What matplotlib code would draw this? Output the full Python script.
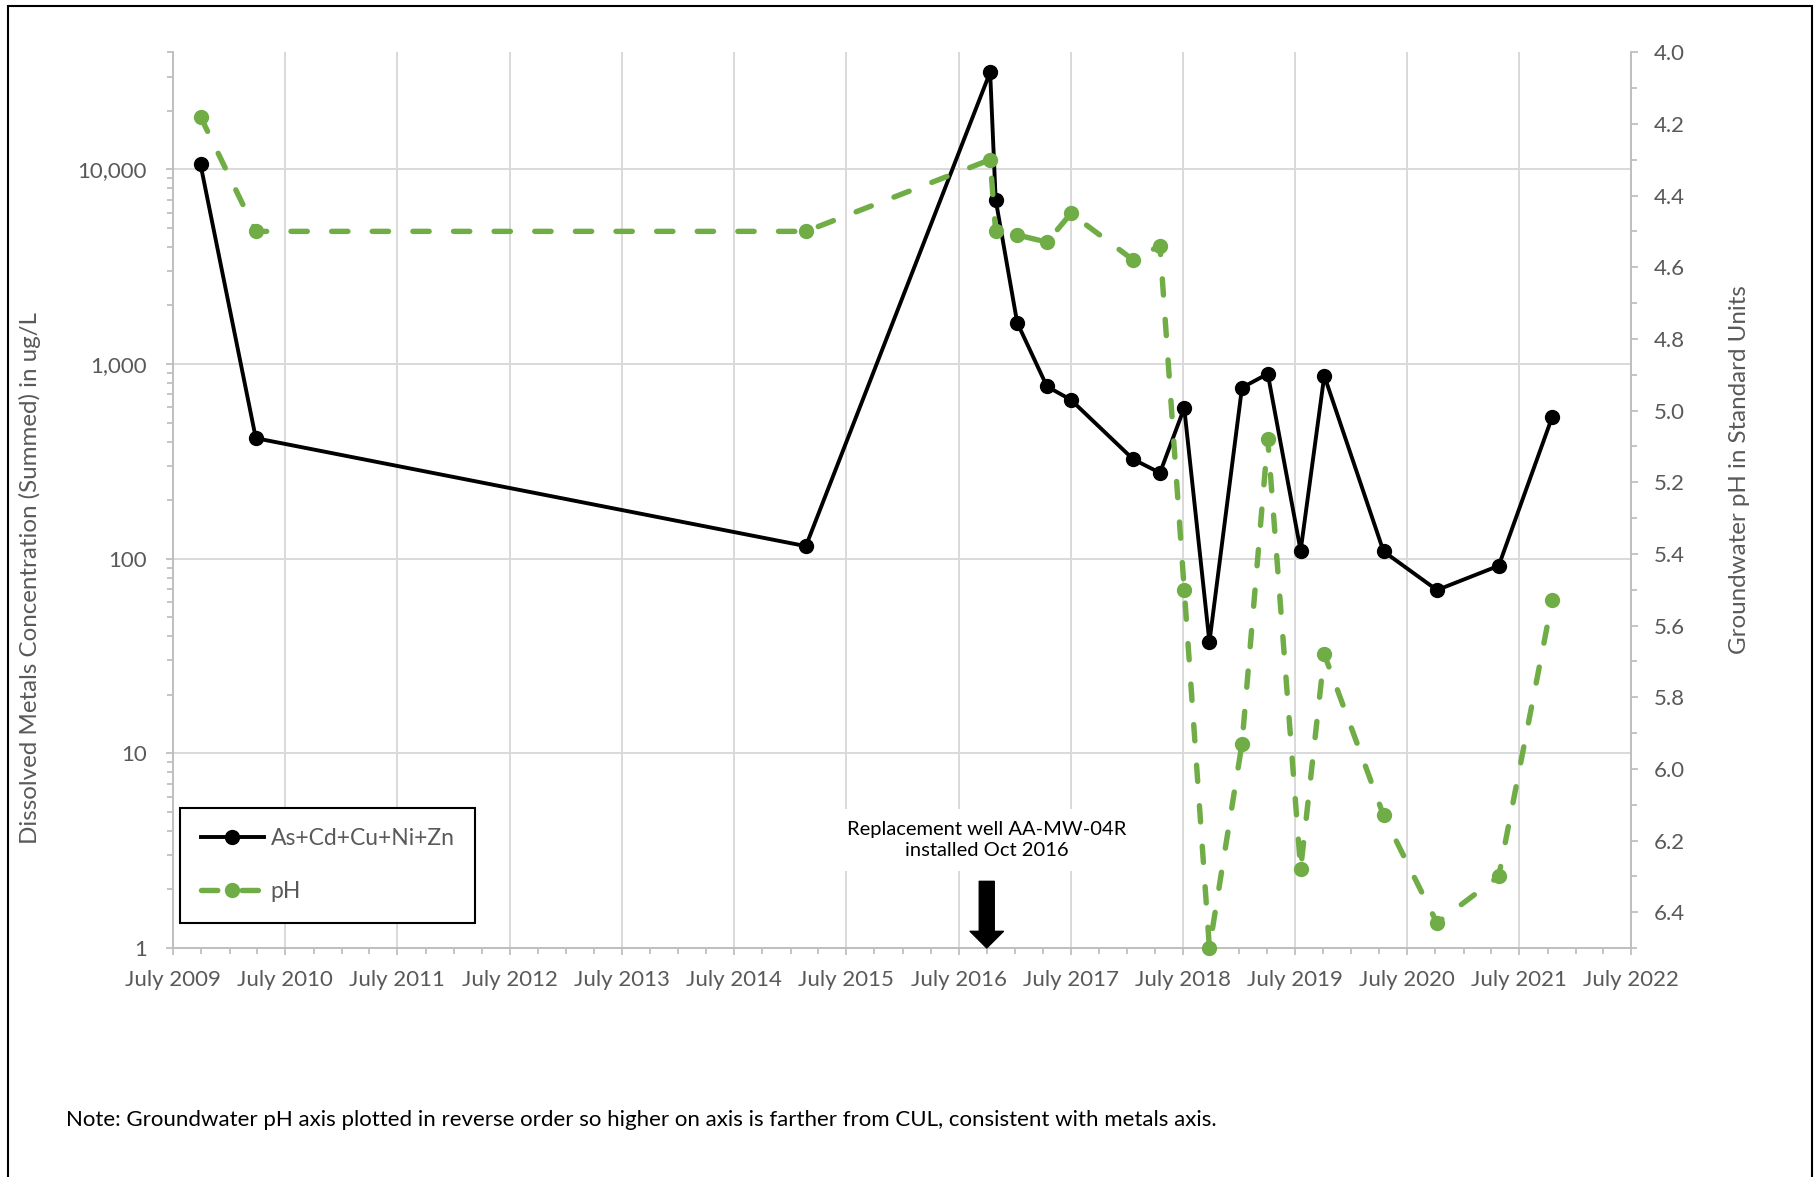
import matplotlib
matplotlib.use("Agg")
import matplotlib.pyplot as plt
import matplotlib.dates as mdates
import matplotlib.ticker as mticker
from matplotlib.patches import Rectangle
import pandas as pd

plt.rcParams['font.family'] = ['Lato', 'DejaVu Sans']

# Monitoring well AA-MW-04 / AA-MW-04R sampling record
sample_dates = ["2009-09-28", "2010-03-27", "2015-02-20", "2016-10-12", "2016-10-30",
                "2017-01-08", "2017-04-15", "2017-07-02", "2018-01-21", "2018-04-18",
                "2018-07-06", "2018-09-26", "2019-01-10", "2019-04-04", "2019-07-20",
                "2019-10-05", "2020-04-15", "2020-10-06", "2021-04-25", "2021-10-16"]
metals_sum = [10600, 416, 116, 31600, 6990, 1634, 767, 655, 324, 276,
              595, 37.3, 756, 891, 110, 871, 109, 69, 92, 534]
ph_values = [4.18, 4.50, 4.50, 4.30, 4.50, 4.51, 4.53, 4.45, 4.58, 4.54,
             5.50, 6.50, 5.93, 5.08, 6.28, 5.68, 6.13, 6.43, 6.30, 5.53]
series_labels = ["As+Cd+Cu+Ni+Zn", "pH"]

x_start, x_end = "2009-07-01", "2022-07-01"
metals_range = (1, 40000)
ph_range = (6.5, 4.0)          # reversed: higher on the axis = lower pH
well_install_date = "2016-10-01"
well_note = "Replacement well AA-MW-04R\ninstalled Oct 2016"
left_title = "Dissolved Metals Concentration (Summed) in ug/L"
right_title = "Groundwater pH in Standard Units"
footnote = ("Note: Groundwater pH axis plotted in reverse order so higher on axis is "
            "farther from CUL, consistent with metals axis.")

GREEN = "#70AD47"
AXIS_GREY = "#BFBFBF"
GRID_GREY = "#D9D9D9"
TEXT_GREY = "#595959"

dates = pd.to_datetime(sample_dates).to_pydatetime()

W, H = 1818, 1177
fig = plt.figure(figsize=(W / 100, H / 100), dpi=100)
ax = fig.add_axes([173.2 / W, 1 - 948 / H, (1631.4 - 173.2) / W, (948 - 52.2) / H])

# ---- primary axis: summed metals (log scale)
ax.set_yscale('log')
ax.set_ylim(*metals_range)
ax.set_xlim(pd.Timestamp(x_start), pd.Timestamp(x_end))
ax.yaxis.set_major_locator(mticker.LogLocator(base=10))
ax.yaxis.set_minor_locator(mticker.LogLocator(base=10, subs=range(2, 10)))
ax.yaxis.set_major_formatter(mticker.FuncFormatter(lambda v, p: f"{v:,.0f}"))
ax.yaxis.set_minor_formatter(mticker.NullFormatter())

ax.xaxis.set_major_locator(mdates.MonthLocator(bymonth=7))
ax.xaxis.set_minor_locator(mdates.MonthLocator(bymonth=[1, 4, 7, 10]))
ax.xaxis.set_major_formatter(mdates.DateFormatter('%B %Y'))

ax.grid(True, which='major', axis='both', color=GRID_GREY, lw=1.4)
ax.set_axisbelow(True)
for s in ('top', 'right'):
    ax.spines[s].set_visible(False)
for s in ('left', 'bottom'):
    ax.spines[s].set_color(AXIS_GREY)
    ax.spines[s].set_linewidth(1.4)
ax.tick_params(which='major', length=5, width=1.3, color=AXIS_GREY,
               labelcolor=TEXT_GREY, labelsize=16)
ax.tick_params(which='minor', length=4, width=1.3, color=AXIS_GREY)
ax.tick_params(axis='y', pad=14)
ax.tick_params(axis='x', pad=11)

metals_line, = ax.plot(dates, metals_sum, color='black', lw=2.8, marker='o',
                       markersize=10, clip_on=False, zorder=4)

# ---- secondary axis: pH (reversed)
ax2 = ax.twinx()
ax2.set_ylim(*ph_range)
ax2.yaxis.set_major_locator(mticker.MultipleLocator(0.2))
ax2.yaxis.set_minor_locator(mticker.MultipleLocator(0.1))
ax2.yaxis.set_major_formatter(mticker.FormatStrFormatter('%.1f'))
for s in ('top', 'left', 'bottom'):
    ax2.spines[s].set_visible(False)
ax2.spines['right'].set_color(AXIS_GREY)
ax2.spines['right'].set_linewidth(1.4)
ax2.tick_params(which='major', length=5, width=1.3, color=AXIS_GREY,
                labelcolor=TEXT_GREY, labelsize=16, pad=11)
ax2.tick_params(which='minor', length=4, width=1.3, color=AXIS_GREY)

ph_line, = ax2.plot(dates, ph_values, color=GREEN, lw=3.9, marker='o',
                    markersize=10, clip_on=False, dashes=(3.0, 4.5),
                    dash_capstyle='round', zorder=4)

# ---- replacement-well annotation
well_dt = pd.Timestamp(well_install_date).to_pydatetime()
ax.text(well_dt, 3.6, well_note, ha='center', va='center', fontsize=14.5,
        color='black', linespacing=1.3, zorder=3,
        bbox=dict(boxstyle='square,pad=0.6', fc='white', ec='none'))
ax.annotate('', xy=(well_dt, 1.0), xytext=(well_dt, 2.2),
            arrowprops=dict(facecolor='black', edgecolor='black', width=10.8,
                            headwidth=24, headlength=12, shrink=0),
            annotation_clip=False, zorder=3)

# ---- legend
leg = ax2.legend(handles=[metals_line, ph_line], labels=series_labels,
                 loc='lower left', bbox_to_anchor=(0.0047, 0.0279),
                 borderaxespad=0, fontsize=16.5, labelcolor=TEXT_GREY,
                 handlelength=2.75, handletextpad=0.3, borderpad=0.9,
                 labelspacing=1.4, fancybox=False, framealpha=1)
leg.get_frame().set_edgecolor('black')
leg.get_frame().set_linewidth(1.5)

# ---- axis titles and footnote
fig.text(30 / W, 1 - 578.5 / H, left_title, rotation=90, ha='center', va='center',
         fontsize=17.4, color=TEXT_GREY)
fig.text(1740 / W, 1 - 469.6 / H, right_title, rotation=90, ha='center', va='center',
         fontsize=17.4, color=TEXT_GREY)
fig.text(66.5 / W, 1 - 1119.8 / H, footnote, ha='left', va='center',
         fontsize=16, color='black')

# outer frame of the chart area
fig.add_artist(Rectangle((8.3 / W, -0.01), (1812 - 8.3) / W, 1 - 5.7 / H + 0.01,
                         transform=fig.transFigure, fill=False, ec='black', lw=1.5))

fig.savefig('out.png', dpi=100)
